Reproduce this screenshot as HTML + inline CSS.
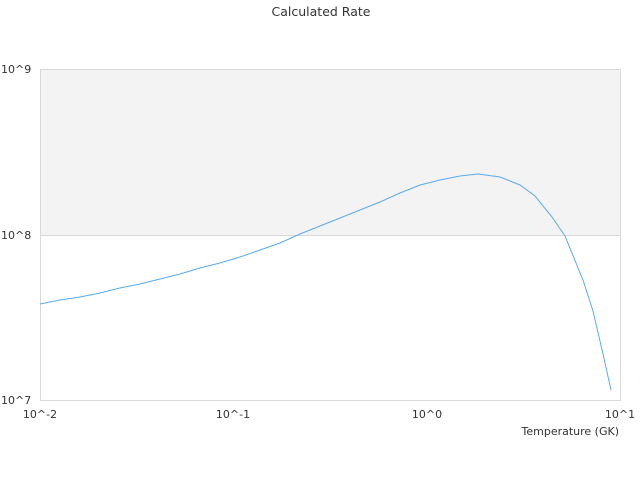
<!DOCTYPE html>
<html><head><style>body{margin:0;background:#fff;font-family:"DejaVu Sans","Liberation Sans",sans-serif;}</style></head>
<body>
<svg width="640" height="480" xmlns="http://www.w3.org/2000/svg" font-family="DejaVu Sans, Liberation Sans, sans-serif" font-size="11" fill="#333">
<rect x="40.5" y="69.5" width="580" height="166" fill="#f3f3f3"/>
<rect x="40.5" y="69.5" width="580" height="331" fill="none" stroke="#d9d9d9"/>
<line x1="40.5" y1="235.5" x2="620.5" y2="235.5" stroke="#d9d9d9"/>
<text x="321" y="16" text-anchor="middle" font-size="12.5">Calculated Rate</text>
<text x="1" y="73">10^9</text>
<text x="1" y="239">10^8</text>
<text x="1" y="404">10^7</text>
<text x="40" y="418" text-anchor="middle">10^-2</text>
<text x="233" y="418" text-anchor="middle">10^-1</text>
<text x="427" y="418" text-anchor="middle">10^0</text>
<text x="620" y="418" text-anchor="middle">10^1</text>
<text x="619" y="435" text-anchor="end">Temperature (GK)</text>
<polyline fill="none" stroke="#5aaaf0" stroke-width="1" points="40,304 60,300 80,297 100,293 120,288 140,284 160,279 180,274 200,268 220,263 240,257 260,250 280,243 300,234 320,226 340,218 360,210 380,202 400,193 420,185 440,180 460,176 478,174 500,177 520,185 535,196 552,217 565,236 583,280 593,311 603,354 611,390"/>
</svg>
</body></html>
